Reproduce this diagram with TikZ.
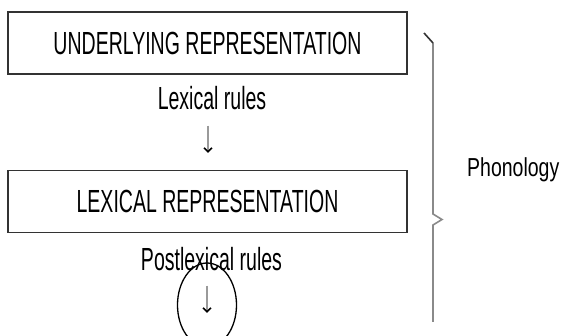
\documentclass[tikz,border=0pt]{standalone}
\usepackage{fontspec}
\setmainfont{Liberation Sans}[FakeStretch=0.61]
\newfontfamily\sidefont{Liberation Sans}[FakeStretch=0.75]
\usetikzlibrary{arrows.meta,positioning,shapes.geometric}
\definecolor{boxline}{HTML}{333333}
\definecolor{braceline}{HTML}{8A8A8A}
\definecolor{stemgray}{HTML}{9A9A9A}
\tikzset{
  level/.style={draw=boxline,line width=1.6pt,minimum width=399pt,minimum height=62pt,
    inner sep=0pt,font=\fontsize{32}{38}\selectfont},
  rulelab/.style={anchor=base,inner sep=0pt,font=\fontsize{32}{38}\selectfont},
  derive/.style={draw=stemgray,line width=1.4pt,-{Straight Barb[length=4pt,width=8pt,black,line width=1.6pt]}}
}
\begin{document}
\begin{tikzpicture}[x=1pt,y=-1pt]
  \useasboundingbox (0,0) rectangle (566,336);
  % Representations
  \node[level] (ur) at (207.5,43) {UNDERLYING REPRESENTATION};
  \node[level] (lr) at (207.5,201.5) {LEXICAL REPRESENTATION};
  % Rule blocks
  \node[rulelab] (lex) at (212,110) {Lexical rules};
  \node[rulelab] (post) at (211.5,271) {Postlexical rules};
  % Arrows
  \coordinate (lexend) at (208,153);
  \coordinate (postend) at (207,313);
  \draw[derive] ([yshift=-15pt]lex.south -| lexend) -- (lexend);
  \draw[derive] ([yshift=-14pt]post.south -| postend) -- (postend);
  % Circled output arrow
  \node[draw,ellipse,line width=1.3pt,minimum width=59pt,minimum height=84pt] (mark) at (207,305) {};
  % Brace
  \draw[braceline,line width=1.6pt] (433,43) -- (433,214) -- (442,219.5) -- (433,225) -- (433,322);
  \draw[boxline,line width=1.6pt] (424,33) -- (433,43);
  \node[anchor=base west,inner sep=0pt,font=\sidefont\fontsize{26}{31}\selectfont] (phon) at (467,177) {Phonology};
\end{tikzpicture}
\end{document}
